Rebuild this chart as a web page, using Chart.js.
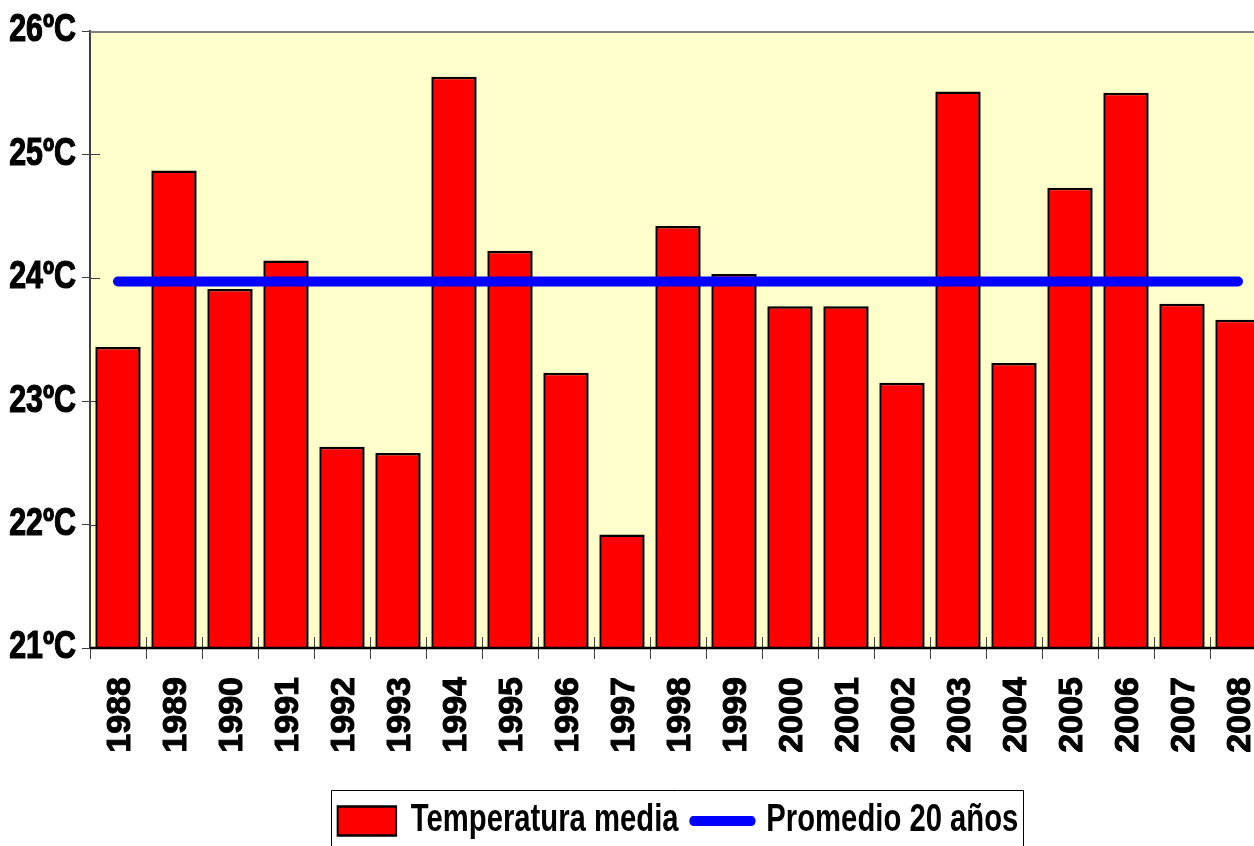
<!DOCTYPE html>
<html>
<head>
<meta charset="utf-8">
<script src="https://cdn.jsdelivr.net/npm/chart.js@4.4.1/dist/chart.umd.min.js"></script>
<style>
html,body{margin:0;padding:0;background:#fff;overflow:hidden;width:1254px;height:846px}
#wrap{width:1356px;height:846px}
canvas{display:block}
</style>
</head>
<body>
<div id="wrap"><canvas id="c" width="1356" height="846"></canvas></div>
<script>
// ---- data ----
const years = ['1988','1989','1990','1991','1992','1993','1994','1995','1996','1997','1998','1999','2000','2001','2002','2003','2004','2005','2006','2007','2008'];
const meanTemp = [23.44, 24.87, 23.91, 24.14, 22.63, 22.58, 25.63, 24.22, 23.23, 21.92, 24.42, 24.03, 23.77, 23.77, 23.15, 25.51, 23.31, 24.73, 25.50, 23.79, 23.66];
const avg20 = [23.97, 23.97, 23.97, 23.97, 23.97, 23.97, 23.97, 23.97, 23.97, 23.97, 23.97, 23.97, 23.97, 23.97, 23.97, 23.97, 23.97, 23.97, 23.97, 23.97, 23.97];
const yTicks = [21, 22, 23, 24, 25, 26];
const seriesNames = ['Temperatura media', 'Promedio 20 años'];
const unit = 'ºC';

const FAMILY = "'Liberation Sans', Arial, Helvetica, sans-serif";
const SX = 0.77;   // horizontal text compression (legend)
const SXY = 0.8;   // horizontal text compression (y labels)

const plotBg = {
  id: 'plotBg',
  beforeDraw(chart) {
    const {ctx, chartArea: a} = chart;
    ctx.save();
    ctx.fillStyle = '#FFFFCC';
    ctx.fillRect(a.left, a.top, a.right - a.left, a.bottom - a.top);
    ctx.restore();
  }
};

const axesExtra = {
  id: 'axesExtra',
  afterLayout(chart) {
    const y = chart.scales.y;
    if (y && !y._wrapped) {
      const orig = y.drawLabels;
      y._computeLabelArea = function () { return undefined; };
      y.drawLabels = function (ca) {
        const c = this.ctx;
        const R = this.right - this.options.grid.tickLength - this.options.ticks.padding;
        c.save();
        c.translate(R, 0); c.scale(SXY, 1); c.translate(-R, 0);
        orig.call(this, ca);
        c.restore();
      };
      y._wrapped = true;
    }
    const lg = chart.legend;
    if (lg && !lg._wrapped) {
      const origL = lg.draw;
      const DY = 4;
      lg.draw = function () {
        const c = this.ctx;
        const cx = (this.left + this.right) / 2;   // centre used by the legend layout
        const tx = chart.width / 2;                // centre of the full chart (plot centre)
        c.save();
        c.translate(0, DY);
        c.translate(tx, 0); c.scale(SX, 1); c.translate(-cx, 0);
        origL.apply(this, arguments);
        c.restore();
        const hb = this.legendHitBoxes;
        if (hb && hb.length) {
          const first = hb[0], last = hb[hb.length - 1];
          const l = tx + (first.left - cx) * SX - 7;
          const r = tx + (last.left + last.width - cx) * SX + 5;
          const centerY = first.top + first.height / 2 + DY;
          const t = Math.round(centerY - 31) + 0.5;
          c.save();
          c.strokeStyle = '#000';
          c.lineWidth = 1;
          c.beginPath();
          c.moveTo(Math.round(l) + 0.5, chart.height + 10);
          c.lineTo(Math.round(l) + 0.5, t);
          c.lineTo(Math.round(r) + 0.5, t);
          c.lineTo(Math.round(r) + 0.5, chart.height + 10);
          c.stroke();
          c.restore();
        }
      };
      lg._wrapped = true;
    }
  },
  beforeDatasetsDraw(chart) {
    const {ctx, chartArea: a, scales: {y}} = chart;
    ctx.save();
    ctx.strokeStyle = '#404040';
    ctx.lineWidth = 1;
    y.ticks.forEach((t, i) => {
      const py = Math.round(y.getPixelForTick(i)) + 0.5;
      ctx.beginPath(); ctx.moveTo(a.left, py); ctx.lineTo(a.left + 10, py); ctx.stroke();
    });
    ctx.strokeStyle = '#808080';
    ctx.lineWidth = 2;
    ctx.beginPath();
    ctx.moveTo(a.left, a.top + 1); ctx.lineTo(a.right, a.top + 1); ctx.lineTo(a.right, a.bottom);
    ctx.stroke();
    ctx.restore();
  },
  afterDatasetsDraw(chart) {
    const {ctx, chartArea: a, scales: {x}} = chart;
    ctx.save();
    ctx.strokeStyle = '#404040';
    ctx.lineWidth = 1;
    for (let i = 0; i <= years.length; i++) {
      const px = Math.round(x.getPixelForValue(i - 0.5)) + 0.5;
      ctx.beginPath(); ctx.moveTo(px, a.bottom - 11); ctx.lineTo(px, a.bottom); ctx.stroke();
    }
    ctx.strokeStyle = '#000';
    ctx.lineWidth = 2.5;
    ctx.beginPath(); ctx.moveTo(a.left, a.bottom); ctx.lineTo(a.right, a.bottom); ctx.stroke();
    ctx.restore();
  }
};

const chart = new Chart(document.getElementById('c'), {
  data: {
    labels: years,
    datasets: [
      {
        type: 'bar',
        label: seriesNames[0],
        data: meanTemp,
        backgroundColor: '#FF0000',
        borderColor: '#000000',
        borderWidth: 2.5,
        borderSkipped: 'bottom',
        barPercentage: 0.81,
        categoryPercentage: 1.0,
        order: 2
      },
      {
        type: 'line',
        label: seriesNames[1],
        data: avg20,
        borderColor: '#0000FF',
        backgroundColor: '#0000FF',
        borderWidth: 10,
        borderCapStyle: 'round',
        pointRadius: 0,
        pointHoverRadius: 0,
        fill: false,
        tension: 0,
        order: 1
      }
    ]
  },
  options: {
    responsive: false,
    animation: false,
    devicePixelRatio: 1,
    layout: { padding: { top: 31, left: 0, right: 90, bottom: 0 } },
    plugins: {
      tooltip: { enabled: false },
      title: { display: false },
      legend: {
        display: true,
        position: 'bottom',
        labels: {
          usePointStyle: true,
          pointStyleWidth: 76,
          boxHeight: 29,
          padding: 19,
          color: '#000',
          font: { family: FAMILY, size: 38, weight: 'bold' },
          generateLabels(ch) {
            const items = Chart.defaults.plugins.legend.labels.generateLabels(ch);
            items.forEach(it => {
              const ds = ch.data.datasets[it.datasetIndex];
              if (ds.type === 'line') {
                it.pointStyle = 'line';
                it.lineWidth = 10;
                it.strokeStyle = '#0000FF';
                it.fillStyle = '#0000FF';
                it.lineCap = 'round';
              } else {
                it.pointStyle = 'rect';
                it.lineWidth = 2.5;
                it.strokeStyle = '#000000';
                it.fillStyle = '#FF0000';
                it.lineCap = 'butt';
              }
            });
            return items.sort((a, b) => a.datasetIndex - b.datasetIndex);
          }
        }
      }
    },
    scales: {
      x: {
        type: 'category',
        offset: true,
        grid: { display: true, offset: true, drawOnChartArea: false, drawTicks: true, tickLength: 11, color: '#404040', lineWidth: 1 },
        border: { display: false },
        ticks: {
          color: '#000',
          font: { family: FAMILY, size: 34, weight: 'bold' },
          textStrokeColor: '#000',
          textStrokeWidth: 1,
          minRotation: 90, maxRotation: 90,
          padding: 18,
          labelOffset: 3,
          autoSkip: false
        },
        afterFit(s) { s.height = 131; }
      },
      y: {
        type: 'linear',
        min: 21, max: 26,
        grid: { display: true, drawOnChartArea: false, drawTicks: true, tickLength: 8, color: '#404040', lineWidth: 1 },
        border: { display: true, color: '#404040', width: 2 },
        ticks: {
          color: '#000',
          font: { family: FAMILY, size: 38, weight: 'bold' },
          textStrokeColor: '#000',
          textStrokeWidth: 1.2,
          padding: 6,
          callback: v => v + unit
        },
        afterBuildTicks(s) { s.ticks = yTicks.map(v => ({ value: v })); },
        afterFit(s) { s.width = 90; }
      }
    }
  },
  plugins: [plotBg, axesExtra]
});
</script>
</body>
</html>
